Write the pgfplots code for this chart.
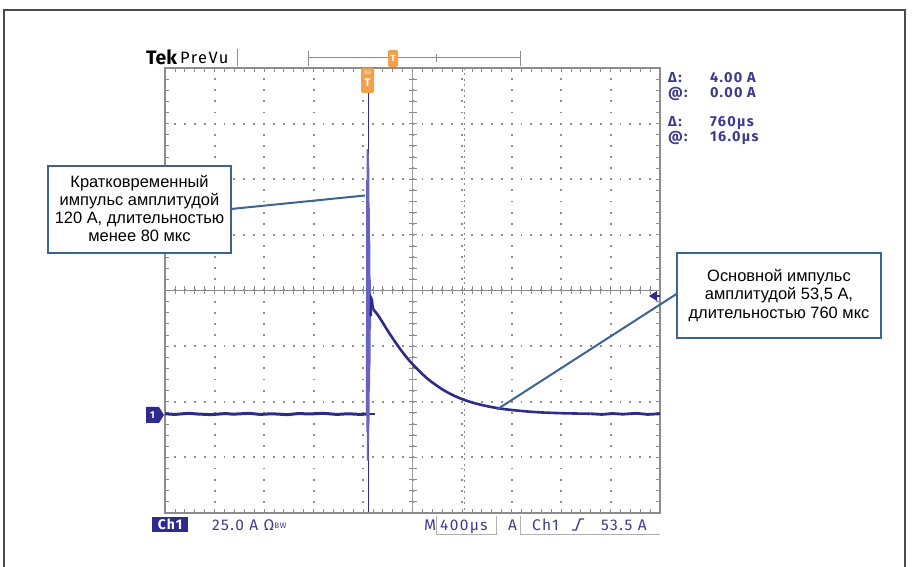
\documentclass[border=0pt]{standalone}
\usepackage{pgfplots}
\pgfplotsset{compat=1.18}
\usepackage{fontspec}
\setmainfont{Liberation Sans}
\newfontfamily\tekfont{Fira Sans}
\newfontfamily\tekwide[LetterSpace=9]{Fira Sans}
\definecolor{trace}{HTML}{2F2B8C}
\definecolor{spike}{HTML}{6663C4}
\definecolor{readout}{HTML}{3B3A8E}
\definecolor{callout}{HTML}{3C6492}
\definecolor{gridgray}{HTML}{8E8E8E}
\definecolor{bordergray}{HTML}{8C8C8C}
\definecolor{tekorange}{HTML}{F0A24A}
\definecolor{frame}{HTML}{4A4A4A}
\begin{document}
\begin{tikzpicture}
\useasboundingbox (0,0) rectangle (915bp,567bp);
% ---- background decorations (pixel coordinates, y downwards)
\begin{scope}[x=1bp,y=-1bp,shift={(0bp,567bp)}]
  \draw[frame, line width=1.3bp] (4,567) -- (4,10) -- (905,10) -- (905,567);
  % centre cross-hair with minor ticks
  \draw[bordergray, line width=0.7bp] (165,290.5) -- (660,290.5);
  \draw[bordergray!80, line width=0.6bp] (412.5,68) -- (412.5,513);
  \foreach \i in {1,...,49} \draw[bordergray, line width=0.8bp] ({165+\i*9.9},286.5) -- ++(0,8);
  \foreach \i in {1,...,39} \draw[bordergray, line width=0.8bp] (408.5,{68+\i*11.125}) -- ++(8,0);
  % cursors
  \draw[bordergray, line width=0.9bp, dash pattern=on 2bp off 3.5bp] (464,68) -- (464,513);
  \draw[trace, line width=0.7bp] (368.5,68) -- (368.5,513);
\end{scope}
% ---- the trace
\begin{axis}[
  at={(165bp,499bp)}, anchor=north west,
  width=495bp, height=445bp, scale only axis,
  xmin=-1640, xmax=2360, ymin=-44.5, ymax=155.5,
  xtick={-1640,-1240,...,2360},
  ytick={-44.5,-19.5,...,155.5},
  minor x tick num=4, minor y tick num=4,
  xticklabels={}, yticklabels={},
  tick align=inside,
  major tick length=4bp, minor tick length=4bp,
  tick style={draw=bordergray, line width=0.8bp},
  axis line style={draw=bordergray, line width=1.2bp},
  grid=major,
  x grid style={draw=gridgray, line width=2bp, dash pattern=on 1.8bp off 9.325bp, dash phase=0.9bp},
  y grid style={draw=gridgray, line width=2bp, dash pattern=on 1.8bp off 8.1bp, dash phase=0.9bp},
  clip=true,
]
% baseline before the pulse
\addplot[trace, line width=3bp] coordinates {
 (-1640,0.1) (-1560,-0.2) (-1450,0.3) (-1380,0.0) (-1270,-0.3) (-1150,0.2)
 (-1090,-0.1) (-960,0.3) (-870,-0.2) (-780,0.1) (-650,-0.3) (-560,0.2)
 (-470,0.0) (-360,0.3) (-250,-0.2) (-160,0.1) (-60,-0.2) (-6,0)};
% short stub of the baseline right of the spike
\addplot[trace, line width=1.4bp] coordinates {(0,0) (55,0)};
% short spike, 120 A
\addplot[spike, line width=1.6bp] coordinates {
 (-10,0) (-8,105) (-6,-8) (-4,119) (-2,-21) (0,117) (2,-14) (4,112) (6,-6)
 (8,95) (10,10) (12,80) (14,20) (16,62) (18,38) (20,52) (22,44)};
% main pulse, 53.5 A
\addplot[trace, line width=2.6bp] coordinates {
 (22,44) (26,52) (32,51.3) (38,48) (43,47)};
\addplot[trace, line width=2.6bp, smooth, tension=0.5] coordinates {
 (43,47) (80,44.5) (120,41) (160,37.4) (200,34) (250,30) (300,26.3) (350,23.0)
 (400,20.1) (450,17.4) (500,15.0) (600,11.1) (700,8.1) (800,5.9) (900,4.3)
 (1000,3.1) (1100,2.2) (1250,1.3) (1400,0.7) (1600,0.3) (1800,0.1)};
\addplot[trace, line width=2.8bp] coordinates {
 (1800,0.1) (1890,-0.2) (1980,0.2) (2060,-0.1) (2170,0.3) (2260,-0.2) (2360,0.1)};
\end{axis}
% ---- foreground annotations
\begin{scope}[x=1bp,y=-1bp,shift={(0bp,567bp)}]
  % Tek header
  \node[anchor=base west, inner sep=0, font=\tekfont\bfseries\fontsize{19.5}{19.5}\selectfont] at (146,65) {Tek};
  \node[anchor=base west, inner sep=0, font=\tekwide\fontsize{16.5}{16.5}\selectfont] at (180,64) {PreVu};
  \draw[gridgray, line width=1bp] (237,49) -- (237,66);
  \draw[bordergray, line width=1bp] (308,51) -- (308,66) (308,58) -- (520,58) (520,51) -- (520,66);
  \draw[bordergray, line width=0.8bp] (436,54) -- (436,62);
  \fill[tekorange, rounded corners=1.5bp] (388,50) rectangle (398,67);
  \node[white, font=\tekfont\bfseries\fontsize{9}{9}\selectfont, inner sep=0] at (393,58.5) {T};
  % trigger position marker
  \fill[tekorange, rounded corners=2bp] (361,68) rectangle (374,93);
  \fill[tekorange!70] (364,70) rectangle (371,74);
  \node[white, font=\tekfont\bfseries\fontsize{11}{11}\selectfont, inner sep=0] at (367.5,83) {T};
  % channel marker and trigger level arrow
  \fill[trace] (146,407) -- (159,407) -- (164,415) -- (159,423) -- (146,423) -- cycle;
  \node[white, font=\tekfont\bfseries\fontsize{10}{10}\selectfont, inner sep=0] at (152.5,415) {1};
  \fill[trace] (649,296) -- (657,291) -- (657,301) -- cycle;
  \draw[trace, line width=1.2bp] (655,296) -- (660,296);
  % readouts
  \begin{scope}[every node/.style={anchor=base west, inner sep=0, text=readout, font=\tekwide\bfseries\fontsize{14.5}{14.5}\selectfont}]
    \node at (668,83) {Δ:};   \node at (710,83) {4.00 A};
    \node at (668,98) {@:};   \node at (710,98) {0.00 A};
    \node at (668,127) {Δ:};  \node at (710,127) {760µs};
    \node at (668,141.5) {@:};  \node at (710,141.5) {16.0µs};
  \end{scope}
  % status line
  \fill[trace] (152,517) rectangle (188,532);
  \node[anchor=base, inner sep=0, white, font=\tekwide\bfseries\fontsize{14}{14}\selectfont] at (170,529.5) {Ch1};
  \begin{scope}[every node/.style={anchor=base west, inner sep=0, text=readout, font=\tekwide\fontsize{15.5}{15.5}\selectfont}]
    \node at (212,530.5) {25.0 A Ω\raisebox{2bp}{\fontsize{8}{8}\selectfont BW}};
    \node at (424,530.5) {M};
    \node at (440,530.5) {400µs};
    \node at (508,530.5) {A};
    \node at (532,530.5) {Ch1};
    \node at (601,530.5) {53.5 A};
  \end{scope}
  \draw[readout, line width=1.4bp] (572,530) -- (576,530) -- (580,519) -- (584,519);
  \draw[gridgray!70, line width=0.9bp] (436,516) -- (436,534) -- (496,534) -- (496,516);
  \draw[gridgray!70, line width=0.9bp] (520,516) -- (520,534) -- (660,534);
  % callouts
  \draw[callout, line width=2bp] (231,209) -- (365,195.5);
  \draw[callout, line width=2bp] (678,293) -- (497,409.5);
  \draw[callout, line width=1.8bp, fill=white] (48,166) rectangle (231,253);
  \draw[callout, line width=1.8bp, fill=white] (677,253) rectangle (881,338);
  \node[align=center, inner sep=0, font=\fontsize{16.5}{18}\selectfont] at (139.5,208.5)
    {Кратковременный\\импульс амплитудой\\120 А, длительностью\\менее 80 мкс};
  \node[align=center, inner sep=0, font=\fontsize{16.5}{18.7}\selectfont] at (779,295.5)
    {Основной импульс\\амплитудой 53,5 А,\\длительностью 760 мкс};
\end{scope}
\end{tikzpicture}
\end{document}
